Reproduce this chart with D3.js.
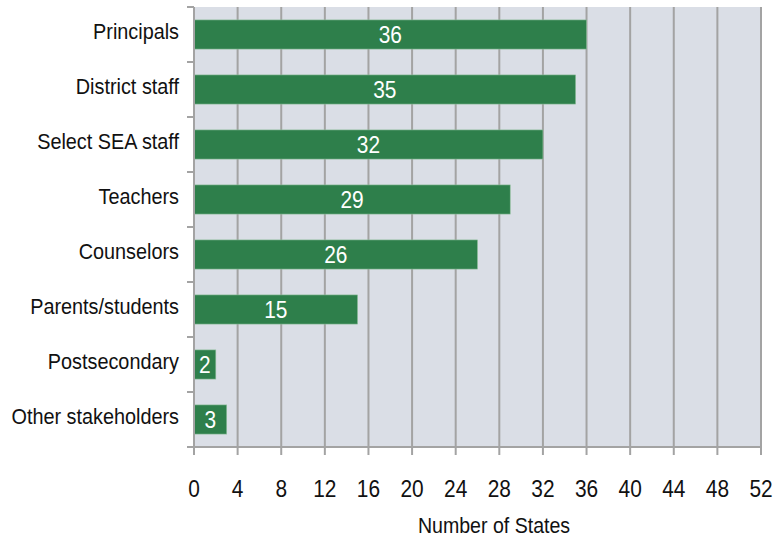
<!DOCTYPE html>
<html>
<head>
<meta charset="utf-8">
<script src="https://cdn.jsdelivr.net/npm/d3@7"></script>
<style>
  body { margin: 0; background: #fff; }
  svg text { font-family: "Liberation Sans", Arial, sans-serif; }
</style>
</head>
<body>
<svg id="chart" width="778" height="539"></svg>
<script>
// Chart data.
const categories = ['Principals', 'District staff', 'Select SEA staff', 'Teachers',
  'Counselors', 'Parents/students', 'Postsecondary', 'Other stakeholders'];
const values = [36, 35, 32, 29, 26, 15, 2, 3];
const xTicks = [0, 4, 8, 12, 16, 20, 24, 28, 32, 36, 40, 44, 48, 52];
const axisTitle = 'Number of States';

const colors = {
  plot: '#dadee6',
  grid: '#a3a3a3',
  bar: '#2e7f4b',
  barEdge: '#8fbf9c',
  text: '#111'
};

// Reference type is a condensed sans, squeeze the regular one.
const narrow = 0.87;

const margin = {top: 7, right: 17, bottom: 92, left: 194};
const width = 778 - margin.left - margin.right,
    height = 539 - margin.top - margin.bottom;

const svg = d3.select('#chart');
const g = svg.append('g').attr('transform', `translate(${margin.left},${margin.top})`);

const x = d3.scaleLinear().domain([0, 52]).range([0, width]);
const y = d3.scaleBand().domain(categories).range([0, height]).paddingInner(0.47).paddingOuter(0.235);

function place(px, py) {
  return `translate(${px},${py}) scale(${narrow},1)`;
}

// Plot background.
g.append('rect')
  .attr('width', width)
  .attr('height', height)
  .attr('fill', colors.plot);

// Vertical grid lines.
g.selectAll('line.grid')
  .data(xTicks.slice(1))
  .join('line')
  .attr('class', 'grid')
  .attr('x1', d => x(d)).attr('x2', d => x(d))
  .attr('y1', 0).attr('y2', height)
  .attr('stroke', colors.grid)
  .attr('stroke-width', 2);

// Bars.
g.selectAll('rect.bar')
  .data(values)
  .join('rect')
  .attr('class', 'bar')
  .attr('x', x(0))
  .attr('y', (d, i) => y(categories[i]))
  .attr('width', d => x(d) - x(0))
  .attr('height', y.bandwidth())
  .attr('fill', colors.bar)
  .attr('stroke', colors.barEdge)
  .attr('stroke-width', 0.6);

// Value labels, centered in bars.
g.selectAll('text.val')
  .data(values)
  .join('text')
  .attr('class', 'val')
  .attr('transform', (d, i) => place(x(d / 2), y(categories[i]) + y.bandwidth() / 2))
  .attr('dy', '0.36em')
  .attr('text-anchor', 'middle')
  .attr('fill', '#fff')
  .attr('font-size', 24)
  .text(d => d);

// Left axis: line and ticks between categories.
const bounds = d3.range(categories.length + 1).map(i =>
  i === 0 ? 0 : (i === categories.length ? height : y(categories[i]) - y.step() * y.paddingInner() / 2));
g.append('line')
  .attr('x1', 0).attr('x2', 0).attr('y1', 0).attr('y2', height)
  .attr('stroke', colors.grid).attr('stroke-width', 2);
g.selectAll('line.ytick')
  .data(bounds)
  .join('line')
  .attr('class', 'ytick')
  .attr('x1', -7).attr('x2', 0)
  .attr('y1', d => d).attr('y2', d => d)
  .attr('stroke', colors.grid).attr('stroke-width', 2);

g.selectAll('text.cat')
  .data(categories)
  .join('text')
  .attr('class', 'cat')
  .attr('transform', d => place(-15, y(d) + y.bandwidth() / 2 - 3.5))
  .attr('dy', '0.36em')
  .attr('text-anchor', 'end')
  .attr('fill', colors.text)
  .attr('font-size', 22.8)
  .text(d => d);

// Bottom axis.
g.append('line')
  .attr('x1', 0).attr('x2', width).attr('y1', height).attr('y2', height)
  .attr('stroke', colors.grid).attr('stroke-width', 2);
g.selectAll('line.xtick')
  .data(xTicks)
  .join('line')
  .attr('class', 'xtick')
  .attr('x1', d => x(d)).attr('x2', d => x(d))
  .attr('y1', height).attr('y2', height + 8)
  .attr('stroke', colors.grid).attr('stroke-width', 2);
g.selectAll('text.xlab')
  .data(xTicks)
  .join('text')
  .attr('class', 'xlab')
  .attr('transform', d => place(x(d), height + 50))
  .attr('text-anchor', 'middle')
  .attr('fill', colors.text)
  .attr('font-size', 24)
  .text(d => d);

svg.append('text')
  .attr('transform', place(494, 533))
  .attr('text-anchor', 'middle')
  .attr('fill', colors.text)
  .attr('font-size', 22.5)
  .text(axisTitle);
</script>
</body>
</html>
